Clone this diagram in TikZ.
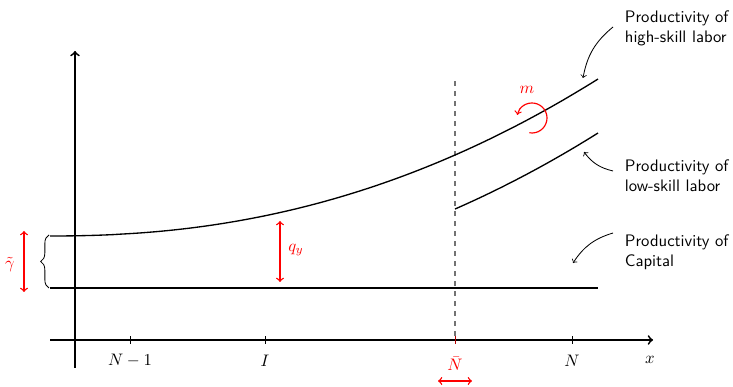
\documentclass[tikz,border=0pt]{standalone}
\usetikzlibrary{decorations.pathreplacing}
\begin{document}
\begin{tikzpicture}[x=0.6pt,y=0.6pt,
  axis/.style={line width=1.1pt,->},
  prodcurve/.style={line width=0.8pt},
  lab/.style={font=\sffamily, align=left, anchor=west},
  note/.style={->, line width=0.5pt},
  redarrow/.style={<->, red, line width=0.8pt},
  tick/.style={line width=0.5pt},
]
\useasboundingbox (0,0) rectangle (733,387);
% axes
\coordinate (xs) at (50,47); \coordinate (xe) at (653,47);
\coordinate (ys) at (75,19); \coordinate (ye) at (75,336);
\draw[axis] (xs) -- (xe);
\draw[axis] (ys) -- (ye);
% ticks and labels
\foreach \x in {130,265,572} {\draw[tick] (\x,43) -- (\x,51);}
\draw[tick,red!70!black] (455,43) -- (455,51);
\node (lN1) at (130,26) {$N-1$};
\node (lI) at (265,26) {$I$};
\node (lN) at (572,26) {$N$};
\node (lx) at (650,27) {$x$};
\node[red] (lNb) at (455,23) {$\bar N$};
\coordinate (nbl) at (438,6); \coordinate (nbr) at (472,6);
\draw[redarrow] (nbl) -- (nbr);
% dashed line
\coordinate (dtop) at (455,307); \coordinate (dbot) at (455,51);
\draw[dashed, black!55, line width=0.7pt] (dbot) -- (dtop);
% curves
\draw[prodcurve] (50,151) -- plot[domain=51:598, samples=80] (\x, {151+157*pow((\x-50)/548,2.19)});
\draw[prodcurve] plot[domain=455:598, samples=40] (\x, {97+157*pow((\x-50)/548,2.19)});
\coordinate (cs) at (50,99); \coordinate (ce) at (598,99);
\draw[prodcurve] (cs) -- (ce);
% brace and gamma
\coordinate (bb) at (49,99); \coordinate (bt) at (49,152);
\draw[decorate, decoration={brace, amplitude=5pt}, line width=0.5pt] (bb) -- (bt);
\coordinate (gb) at (24,95); \coordinate (gt) at (24,156);
\draw[redarrow] (gb) -- (gt);
\node[red] (lg) at (10,122) {$\tilde\gamma$};
% q_y
\coordinate (qb) at (280,105); \coordinate (qt) at (280,166);
\draw[redarrow] (qb) -- (qt);
\node[red] (lq) at (296,137) {$q_y$};
% m
\coordinate (mc) at (532,269);
\draw[red, line width=0.7pt, ->] ([shift={(-100:15)}]mc) arc[start angle=-100, end angle=168, radius=15];
\node[red] (lm) at (527,297) {$m$};
% labels
\node[lab] (hl) at (619,359) {Productivity of\\high-skill labor};
\node[lab] (ll) at (619,211) {Productivity of\\low-skill labor};
\node[lab] (cl) at (619,135) {Productivity of\\Capital};
\coordinate (hs) at (613,360); \coordinate (ht) at (583,309);
\coordinate (ls) at (613,216); \coordinate (lt) at (584,235);
\coordinate (ks) at (613,154); \coordinate (kt) at (573,124);
\draw[note] (hs) to[bend right=20] (ht);
\draw[note] (ls) to[bend left=20] (lt);
\draw[note] (ks) to[bend right=20] (kt);
\end{tikzpicture}
\end{document}
